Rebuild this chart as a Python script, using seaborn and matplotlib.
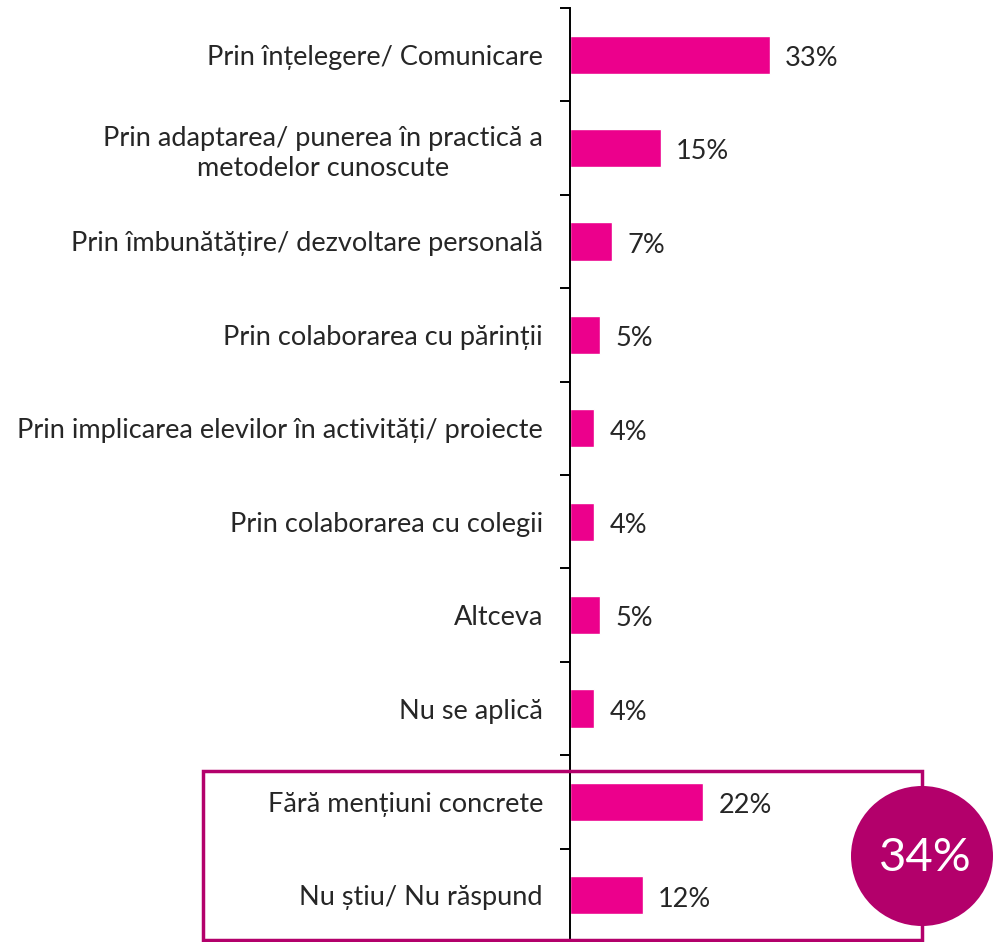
import numpy as np
import matplotlib
matplotlib.use("Agg")
import matplotlib.pyplot as plt
import seaborn as sns
import pandas as pd
from matplotlib.patches import Rectangle, Ellipse

# data
categories = [
    "Prin înțelegere/ Comunicare",
    "Prin adaptarea/ punerea în practică a\nmetodelor cunoscute",
    "Prin îmbunătățire/ dezvoltare personală",
    "Prin colaborarea cu părinții",
    "Prin implicarea elevilor în activități/ proiecte",
    "Prin colaborarea cu colegii",
    "Altceva",
    "Nu se aplică",
    "Fără mențiuni concrete",
    "Nu știu/ Nu răspund",
]
values = [33, 15, 7, 5, 4, 4, 5, 4, 22, 12]
total_label = "34%"

bar_color = "#EC008C"
box_color = "#B3006B"

sns.set_style("white")
plt.rcParams["font.family"] = ["Lato", "DejaVu Sans"]

df = pd.DataFrame({"cat": categories, "val": values})

fig = plt.figure(figsize=(9.93, 9.42), dpi=100)
ax = fig.add_axes([570 / 993, 0, 1 - 570 / 993, 1 - 8 / 942])

sns.barplot(data=df, x="val", y="cat", color=bar_color, width=0.41,
            saturation=1, ax=ax)

ax.set_xlim(0, 69.8)
ax.set_ylim(len(categories) - 0.5, -0.5)
ax.set_xlabel("")
ax.set_ylabel("")
ax.set_xticks([])

for s in ["top", "right", "bottom"]:
    ax.spines[s].set_visible(False)
ax.spines["left"].set_color("black")
ax.spines["left"].set_linewidth(1.4)

# ticks between categories
ax.set_yticks(np.arange(len(categories)))
ax.set_yticklabels(categories, fontsize=19.5, multialignment="center",
                   linespacing=1.25)
ax.tick_params(axis="y", which="major", length=0, pad=19.5)
ax.set_yticks(np.arange(-0.5, len(categories), 1), minor=True)
ax.tick_params(axis="y", which="minor", length=7, width=1.4, color="black",
               left=True, direction="out")

for i, v in enumerate(values):
    ax.text(v + 2.5, i + 0.04, f"{v}%", va="center", ha="left", fontsize=19.5)

# box around last two answers
rect = Rectangle((203 / 993, 2 / 942), (922 - 203) / 993, (940 - 771) / 942,
                 transform=fig.transFigure, fill=False, edgecolor=box_color,
                 linewidth=2.5, clip_on=False)
fig.patches.append(rect)

circ = Ellipse((922 / 993, 1 - 856 / 942), 142 / 993, 140 / 942,
               transform=fig.transFigure, facecolor=box_color,
               edgecolor="none", clip_on=False)
fig.patches.append(circ)
fig.text(925 / 993, 1 - 858 / 942, total_label, ha="center", va="center",
         color="white", fontsize=34)

fig.savefig("out.png", dpi=100)
